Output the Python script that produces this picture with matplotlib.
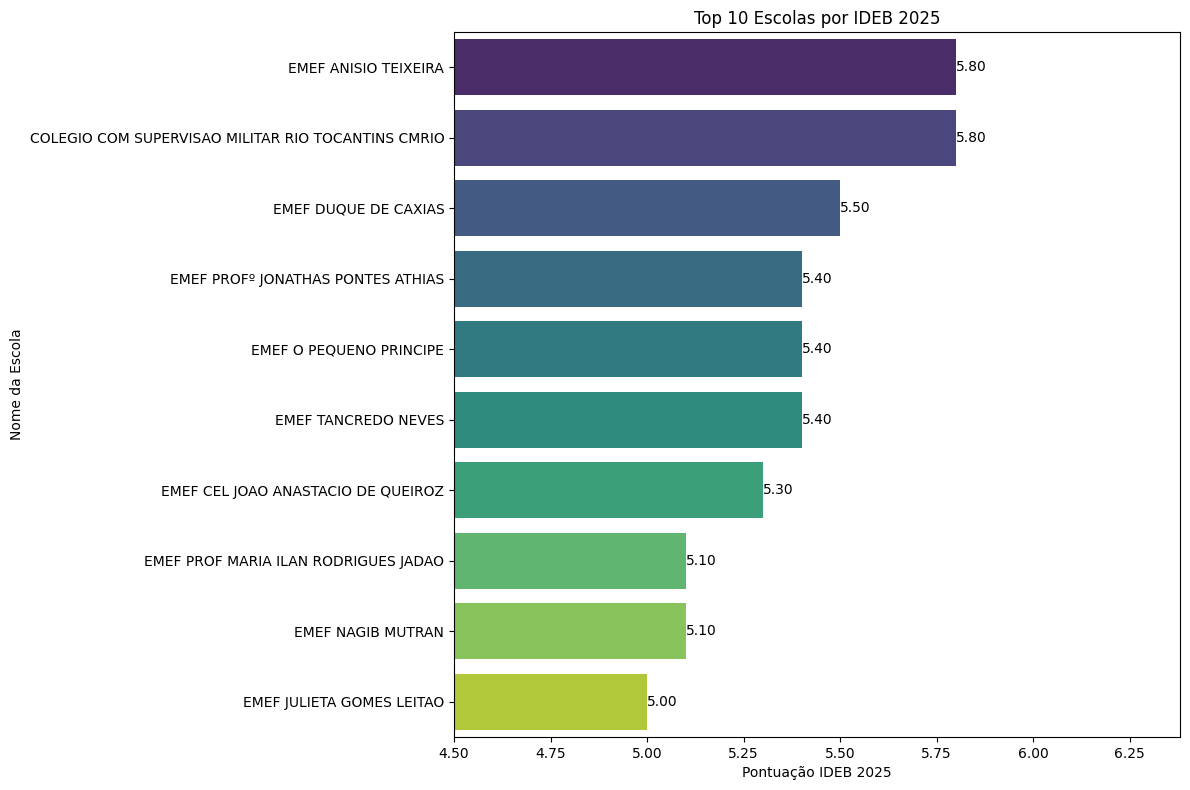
import matplotlib
matplotlib.use("Agg")
import matplotlib.pyplot as plt
import numpy as np
import colorsys

escolas = [
    "EMEF ANISIO TEIXEIRA",
    "COLEGIO COM SUPERVISAO MILITAR RIO TOCANTINS CMRIO",
    "EMEF DUQUE DE CAXIAS",
    "EMEF PROFº JONATHAS PONTES ATHIAS",
    "EMEF O PEQUENO PRINCIPE",
    "EMEF TANCREDO NEVES",
    "EMEF CEL JOAO ANASTACIO DE QUEIROZ",
    "EMEF PROF MARIA ILAN RODRIGUES JADAO",
    "EMEF NAGIB MUTRAN",
    "EMEF JULIETA GOMES LEITAO",
]
ideb = [5.8, 5.8, 5.5, 5.4, 5.4, 5.4, 5.3, 5.1, 5.1, 5.0]

n = len(escolas)
cmap = plt.get_cmap("viridis")


def desat(c, prop=0.75):
    h, l, s = colorsys.rgb_to_hls(*c[:3])
    return colorsys.hls_to_rgb(h, l, s * prop)


colors = [desat(cmap(p)) for p in np.linspace(0, 1, n + 2)[1:-1]]

fig = plt.figure(figsize=(11.9, 7.9), dpi=100)
ax = fig.add_axes([454 / 1190, 1 - 737 / 790, (1180 - 454) / 1190, (737 - 32) / 790])
pos = np.arange(n)
bars = ax.barh(pos, ideb, height=0.8, color=colors, left=0)
ax.set_yticks(pos)
ax.set_yticklabels(escolas)
ax.set_ylim(n - 0.5, -0.5)
ax.set_xlim(4.5, max(ideb) * 1.1)
for b, v in zip(bars, ideb):
    ax.text(b.get_width(), b.get_y() + b.get_height() / 2, f"{v:.2f}",
            ha="left", va="center", fontsize=10)
ax.set_title("Top 10 Escolas por IDEB 2025")
ax.set_xlabel("Pontuação IDEB 2025")
ax.set_ylabel("Nome da Escola")
fig.savefig("out.png", dpi=100)
